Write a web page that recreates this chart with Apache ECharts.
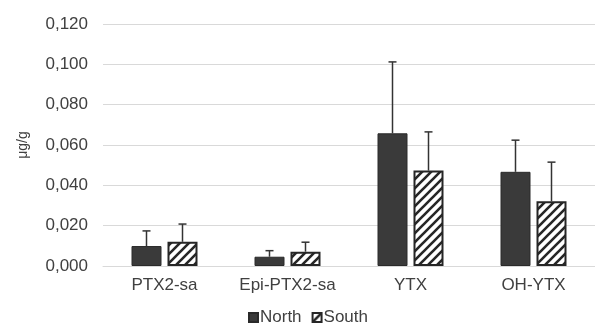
<!DOCTYPE html>
<html>
<head>
<meta charset="utf-8">
<script src="https://cdn.jsdelivr.net/npm/echarts@6/dist/echarts.min.js"></script>
<style>html,body{margin:0;padding:0;background:#fff;}#c{width:595px;height:326px;}</style>
</head>
<body>
<div id="c"></div>
<script>
var categories = ['PTX2-sa', 'Epi-PTX2-sa', 'YTX', 'OH-YTX'];
var northValues = [0.0099, 0.0046, 0.0658, 0.0467];
var southValues = [0.0120, 0.0071, 0.0473, 0.0321];
var northErrTop = [0.0174, 0.0076, 0.1012, 0.0624];
var southErrTop = [0.0208, 0.0118, 0.0665, 0.0515];
var yTicks = [0, 0.02, 0.04, 0.06, 0.08, 0.10, 0.12];

function stripePattern() {
  var s = 9;
  var cv = document.createElement('canvas');
  cv.width = s; cv.height = s;
  var ctx = cv.getContext('2d');
  ctx.fillStyle = '#ffffff';
  ctx.fillRect(0, 0, s, s);
  ctx.strokeStyle = '#262626';
  ctx.lineWidth = 2.6;
  ctx.beginPath();
  ctx.moveTo(-2, s + 2); ctx.lineTo(s + 2, -2);
  ctx.moveTo(-2, 2); ctx.lineTo(2, -2);
  ctx.moveTo(s - 2, s + 2); ctx.lineTo(s + 2, s - 2);
  ctx.stroke();
  return cv;
}

var chart = echarts.init(document.getElementById('c'), null, {renderer: 'canvas'});
var font = 'Liberation Sans, Arial, sans-serif';
var textColor = '#404040';
var BAR_W = 30, GAP = 6;

function errSeries(vals, errs, sign) {
  return {
    type: 'custom',
    silent: true,
    z: 1,
    data: categories.map(function (c, i) { return [i, vals[i], errs[i]]; }),
    renderItem: function (params, api) {
      var base = api.coord([api.value(0), api.value(1)]);
      var top = api.coord([api.value(0), api.value(2)]);
      var off = sign * (BAR_W + GAP) / 2;
      var x = base[0] + off;
      var st = {stroke: '#333333', lineWidth: 1.5};
      return {
        type: 'group',
        children: [
          {type: 'line', shape: {x1: x, y1: base[1], x2: x, y2: top[1]}, style: st},
          {type: 'line', shape: {x1: x - 4, y1: top[1], x2: x + 4, y2: top[1]}, style: st}
        ]
      };
    }
  };
}

chart.setOption({
  animation: false,
  backgroundColor: '#ffffff',
  grid: {left: 103, top: 24, width: 505, height: 242},
  legend: {
    top: 309,
    left: 248,
    padding: 0,
    itemWidth: 9,
    itemHeight: 9,
    itemGap: 10,
    icon: 'rect',
    textStyle: {fontFamily: font, fontSize: 17, color: textColor, padding: [0, 0, 0, -3]},
    data: ['North', 'South']
  },
  xAxis: {
    type: 'category',
    data: categories,
    axisLine: {show: true, lineStyle: {color: '#d9d9d9', width: 1}},
    axisTick: {show: false},
    axisLabel: {fontFamily: font, fontSize: 17, color: textColor, margin: 11, interval: 0}
  },
  yAxis: {
    type: 'value',
    min: 0, max: 0.12, interval: 0.02,
    name: 'μg/g',
    nameLocation: 'middle',
    nameGap: 73,
    nameTextStyle: {fontFamily: font, fontSize: 14, color: textColor},
    axisLine: {show: false},
    axisTick: {show: false},
    splitLine: {lineStyle: {color: '#d9d9d9', width: 1}},
    axisLabel: {
      fontFamily: font, fontSize: 17, color: textColor, margin: 15,
      formatter: function (v) { return v.toFixed(3).replace('.', ','); }
    }
  },
  series: [
    errSeries(northValues, northErrTop, -1),
    errSeries(southValues, southErrTop, 1),
    {
      name: 'North', type: 'bar', data: northValues, barWidth: BAR_W, barGap: (GAP / BAR_W * 100) + '%', z: 2,
      itemStyle: {color: '#3a3a3a', borderColor: '#2a2a2a', borderWidth: 1}
    },
    {
      name: 'South', type: 'bar', data: southValues, barWidth: BAR_W, z: 2,
      itemStyle: {color: {image: stripePattern(), repeat: 'repeat'}, borderColor: '#262626', borderWidth: 2}
    }
  ]
});
</script>
</body>
</html>
